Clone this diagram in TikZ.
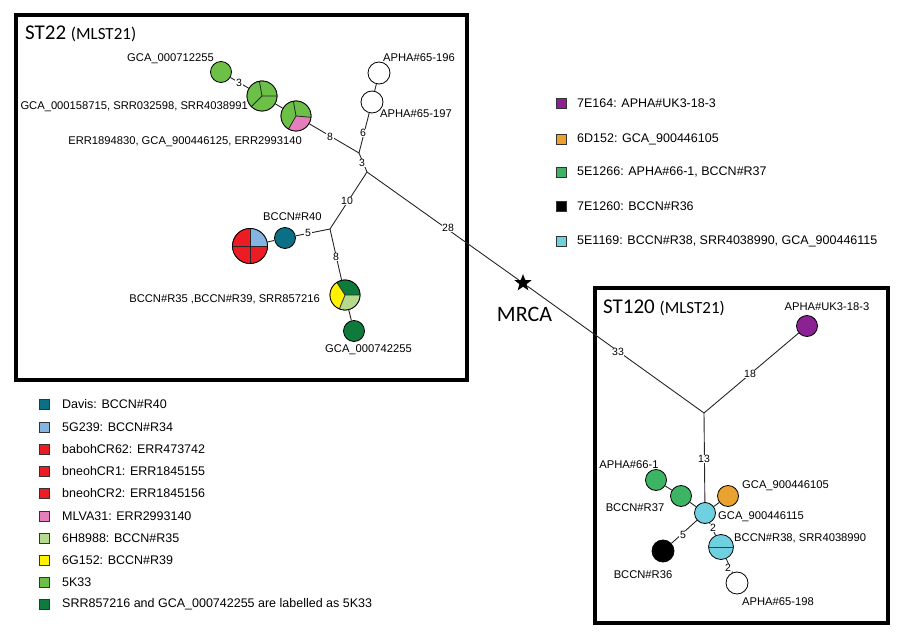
\documentclass[tikz,border=0pt]{standalone}
\usepackage{fontspec}
\setmainfont{Liberation Sans}
\newfontfamily\titlefont{Carlito}
\usetikzlibrary{shapes.geometric}
\definecolor{cTeal}{HTML}{0B6F86}
\definecolor{cLBlue}{HTML}{84B4E2}
\definecolor{cRed}{HTML}{ED1C24}
\definecolor{cPink}{HTML}{E47FBC}
\definecolor{cLGreen}{HTML}{B5D98D}
\definecolor{cYellow}{HTML}{FFF200}
\definecolor{cGreen}{HTML}{6CBF47}
\definecolor{cDGreen}{HTML}{0E7B3D}
\definecolor{cPurple}{HTML}{8B2192}
\definecolor{cOrange}{HTML}{E9A130}
\definecolor{cMGreen}{HTML}{3CB464}
\definecolor{cCyan}{HTML}{6FD0E0}
\tikzset{
  circ/.style={circle, draw=black, line width=0.8pt, inner sep=0pt, minimum size=#1},
  circ/.default=21pt,
  edge/.style={line width=0.9pt, draw=black!85},
  elab/.style={fill=white, inner sep=0.6pt, font=\fontsize{10.5}{11}\selectfont},
  lab/.style={inner sep=0pt, font=\fontsize{11.2}{13}\selectfont},
  legsq/.style={draw=black!80, line width=0.5pt, minimum size=10pt, inner sep=0pt},
  legtxt/.style={anchor=west, inner sep=0pt, font=\fontsize{12.5}{14}\selectfont},
  frame/.style={line width=3.5pt, draw=black},
  divl/.style={line width=0.8pt, draw=black!85}
}
\begin{document}
\begin{tikzpicture}[x=1pt,y=-1pt]
\useasboundingbox (0,0) rectangle (900,639);
% frames
\draw[frame] (16,15) rectangle (467,380);
\draw[frame] (595,288) rectangle (888,623);
\node[anchor=base west, inner sep=0pt] (t22) at (25,40) {\titlefont\fontsize{21}{24}\selectfont ST22 {\fontsize{17}{18}\selectfont (MLST21)}};
\node[anchor=base west, inner sep=0pt] (t120) at (603,313) {\titlefont\fontsize{21}{24}\selectfont ST120 {\fontsize{17}{18}\selectfont (MLST21)}};
\node[anchor=base, inner sep=0pt] (mrcat) at (524.5,321) {\titlefont\fontsize{22}{24}\selectfont MRCA};

% junctions
\coordinate (jA) at (359,153);
\coordinate (jB) at (367,172);
\coordinate (jC) at (330,229);
\coordinate (jD) at (704,413);
\node[star, star points=5, star point ratio=2.4, fill=black, inner sep=0pt, minimum size=18pt] (mrca) at (523,283) {};

% ST22 nodes
\node[circ=21pt, fill=cGreen] (g712) at (221,72) {};
\node[circ=30pt] (g158) at (262,96) {};
\node[circ=30pt] (err18) at (296,116) {};
\node[circ=22pt, fill=white] (a196) at (379,73) {};
\node[circ=22pt, fill=white] (a197) at (372,102) {};
\node[circ=21pt, fill=cTeal] (r40) at (285,238) {};
\node[circ=35pt] (rb) at (250,246) {};
\node[circ=30pt] (r35) at (345,295) {};
\node[circ=21pt, fill=cDGreen] (g742) at (354,331) {};

% pies
\fill[cGreen] (g158) circle (15pt);
\draw[divl] (g158.center) -- ++(100:15pt) (g158.center) -- ++(0:15pt) (g158.center) -- ++(225:15pt);
\draw[line width=0.8pt] (g158) circle (15pt);
\fill[cGreen] (err18) circle (15pt);
\fill[cPink] (err18.center) -- ++(240:15pt) arc[start angle=240, end angle=355, radius=15pt] -- cycle;
\draw[divl] (err18.center) -- ++(100:15pt) (err18.center) -- ++(355:15pt) (err18.center) -- ++(240:15pt);
\draw[line width=0.8pt] (err18) circle (15pt);
\fill[cRed] (rb) circle (17.5pt);
\fill[cLBlue] (rb.center) -- ++(0:17.5pt) arc[start angle=0, end angle=90, radius=17.5pt] -- cycle;
\draw[divl] (rb.center) ++(-17.5pt,0) -- ++(35pt,0) (rb.center) ++(0,-17.5pt) -- ++(0,35pt);
\draw[line width=0.8pt] (rb) circle (17.5pt);
\fill[cDGreen] (r35.center) -- ++(0:15pt) arc[start angle=0, end angle=123, radius=15pt] -- cycle;
\fill[cYellow] (r35.center) -- ++(123:15pt) arc[start angle=123, end angle=248, radius=15pt] -- cycle;
\fill[cLGreen] (r35.center) -- ++(248:15pt) arc[start angle=248, end angle=360, radius=15pt] -- cycle;
\draw[divl] (r35.center) -- ++(0:15pt) (r35.center) -- ++(123:15pt) (r35.center) -- ++(248:15pt);
\draw[line width=0.8pt] (r35) circle (15pt);

% ST22 edges
\draw[edge] (g712) -- (g158);
\draw[edge] (g158) -- (err18);
\draw[edge] (err18) -- (jA);
\draw[edge] (jA) -- (a197);
\draw[edge] (a197) -- (a196);
\draw[edge] (jA) -- (jB);
\draw[edge] (jB) -- (jC);
\draw[edge] (jC) -- (r40);
\draw[edge] (r40) -- (rb);
\draw[edge] (jC) -- (r35);
\draw[edge] (r35) -- (g742);
\draw[edge] (jB) -- (mrca);
\draw[edge] (mrca) -- (jD);

\node[elab] (e1) at (239,83) {3};
\node[elab] (e2) at (330,137) {8};
\node[elab] (e3) at (363,133) {6};
\node[elab] (e4) at (362,163) {3};
\node[elab] (e5) at (347,201) {10};
\node[elab] (e6) at (308,233) {5};
\node[elab] (e7) at (336,257) {8};
\node[elab] (e8) at (448,228) {28};
\node[elab] (e9) at (618,352) {33};

% ST22 labels
\node[lab, anchor=east] (l1) at (214,59) {GCA\_000712255};
\node[lab, anchor=east] (l2) at (248,107) {GCA\_000158715, SRR032598, SRR4038991};
\node[lab, anchor=east] (l3) at (302,142) {ERR1894830, GCA\_900446125, ERR2993140};
\node[lab, anchor=west] (l4) at (383,58) {APHA\#65-196};
\node[lab, anchor=west] (l5) at (380,114) {APHA\#65-197};
\node[lab, anchor=west] (l6) at (263,217) {BCCN\#R40};
\node[lab, anchor=east] (l7) at (320,299) {BCCN\#R35 ,BCCN\#R39, SRR857216};
\node[lab, anchor=west] (l8) at (325,350) {GCA\_000742255};

% ST120 nodes
\node[circ=21pt, fill=cPurple] (uk) at (807,326) {};
\node[circ=21pt, fill=cCyan] (g115) at (705,513) {};
\node[circ=21pt, fill=cMGreen] (a661) at (656,480) {};
\node[circ=21pt, fill=cMGreen] (r37) at (681,496) {};
\node[circ=21pt, fill=cOrange] (g105) at (728,496) {};
\node[circ=25pt, fill=cCyan] (r38) at (721,547) {};
\draw[line width=1pt, draw=cTeal!70!black] (r38.west) -- (r38.east);
\node[circ=22pt, fill=white] (a198) at (737,583) {};
\node[circ=22pt, fill=black] (r36) at (663,551) {};

\draw[edge] (jD) -- (uk);
\draw[edge] (jD) -- (g115);
\draw[edge] (g115) -- (r37);
\draw[edge] (r37) -- (a661);
\draw[edge] (g115) -- (g105);
\draw[edge] (g115) -- (r38);
\draw[edge] (r38) -- (a198);
\draw[edge] (g115) -- (r36);

\node[elab] (e10) at (750,374) {18};
\node[elab] (e11) at (704,459) {13};
\node[elab] (e12) at (713,528) {2};
\node[elab] (e13) at (728,568) {2};
\node[elab] (e14) at (683,535) {5};

\node[lab] (l9) at (827,307) {APHA\#UK3-18-3};
\node[lab] (l10) at (629,465) {APHA\#66-1};
\node[lab] (l11) at (635,508) {BCCN\#R37};
\node[lab, anchor=west] (l12) at (742,486) {GCA\_900446105};
\node[lab, anchor=west] (l13) at (718,517) {GCA\_900446115};
\node[lab, anchor=west] (l14) at (734,538) {BCCN\#R38, SRR4038990};
\node[lab, anchor=west] (l15) at (742,602) {APHA\#65-198};
\node[lab] (l16) at (643,575) {BCCN\#R36};

% right legend
\node[legsq, fill=cPurple] (q1) at (561,103) {};
\node[legtxt] (t1) at (577,103) {7E164: APHA\#UK3-18-3};
\node[legsq, fill=cOrange] (q2) at (561,139) {};
\node[legtxt] (t2) at (577,139) {6D152: GCA\_900446105};
\node[legsq, fill=cMGreen] (q3) at (561,172) {};
\node[legtxt] (t3) at (577,172) {5E1266: APHA\#66-1, BCCN\#R37};
\node[legsq, fill=black] (q4) at (561,206) {};
\node[legtxt] (t4) at (577,206) {7E1260: BCCN\#R36};
\node[legsq, fill=cCyan] (q5) at (561,241) {};
\node[legtxt] (t5) at (577,241) {5E1169: BCCN\#R38, SRR4038990, GCA\_900446115};

% left legend
\node[legsq, fill=cTeal] (p1) at (44.5,404) {};
\node[legtxt] (s1) at (62,404) {Davis: BCCN\#R40};
\node[legsq, fill=cLBlue] (p2) at (44.5,427) {};
\node[legtxt] (s2) at (62,427) {5G239: BCCN\#R34};
\node[legsq, fill=cRed] (p3) at (44.5,449) {};
\node[legtxt] (s3) at (62,449) {babohCR62: ERR473742};
\node[legsq, fill=cRed] (p4) at (44.5,471) {};
\node[legtxt] (s4) at (62,471) {bneohCR1: ERR1845155};
\node[legsq, fill=cRed] (p5) at (44.5,493) {};
\node[legtxt] (s5) at (62,493) {bneohCR2: ERR1845156};
\node[legsq, fill=cPink] (p6) at (44.5,516) {};
\node[legtxt] (s6) at (62,516) {MLVA31: ERR2993140};
\node[legsq, fill=cLGreen] (p7) at (44.5,538) {};
\node[legtxt] (s7) at (62,538) {6H8988: BCCN\#R35};
\node[legsq, fill=cYellow] (p8) at (44.5,560) {};
\node[legtxt] (s8) at (62,560) {6G152: BCCN\#R39};
\node[legsq, fill=cGreen] (p9) at (44.5,582) {};
\node[legtxt] (s9) at (62,582) {5K33};
\node[legsq, fill=cDGreen] (p10) at (44.5,604) {};
\node[legtxt] (s10) at (62,604) {SRR857216 and GCA\_000742255 are labelled as 5K33};
\end{tikzpicture}
\end{document}
